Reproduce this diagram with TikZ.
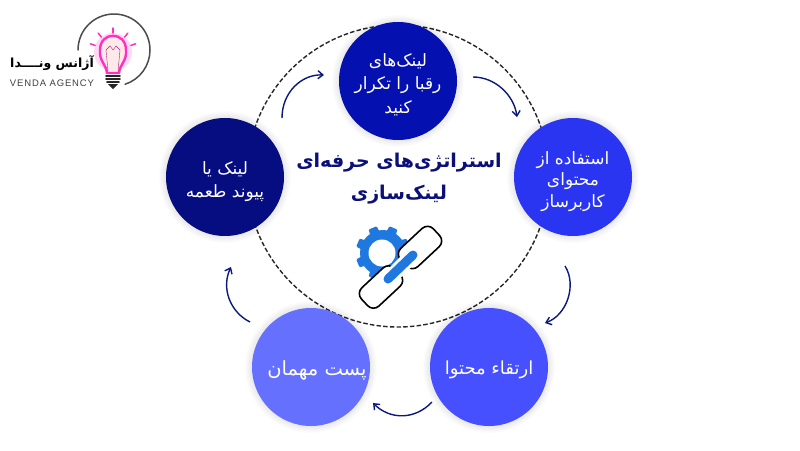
\documentclass[tikz,border=0pt]{standalone}
\usepackage{fontspec}
\setmainfont{Liberation Sans}
\newfontfamily\arabicfont[Script=Arabic]{DejaVu Sans}
\TeXXeTstate=1
\newcommand{\rl}[1]{\beginR #1\endR}
\newcommand{\dropa}{\rule{0pt}{20pt}}
\definecolor{ctop}{HTML}{0510B0}
\definecolor{cleft}{HTML}{060D80}
\definecolor{cright}{HTML}{2A35F2}
\definecolor{clr}{HTML}{4650FF}
\definecolor{cll}{HTML}{6670FF}
\definecolor{arrowc}{HTML}{0C1880}
\definecolor{titlec}{HTML}{0A1078}
\definecolor{gearc}{HTML}{1F78E0}
\definecolor{pinkc}{HTML}{FF2FC0}
\usetikzlibrary{arrows.meta,calc}
\tikzset{
  stagecircle/.style={circle,minimum size=118pt,inner sep=0pt,text=white,align=center,
    font=\arabicfont\fontsize{17}{23.5}\selectfont},
  flowarc/.style={draw=arrowc,line width=1.4pt,-{Straight Barb[length=5pt,width=8pt]}},
  ray/.style={draw=pinkc,line width=1.5pt,line cap=round},
  linkshape/.style={draw=black,fill=white,line width=1.6pt,rounded corners=8pt,
    minimum width=45pt,minimum height=25pt,inner sep=0pt,rotate=43}
}
\newcommand{\softshadow}[1]{%
  \foreach \r in {66,65,64,63,62,61,60}{\fill[black,opacity=0.012] #1 circle (\r pt);}}
\begin{document}
\begin{tikzpicture}[x=1pt,y=-1pt]
\useasboundingbox (0,0) rectangle (800,450);
\fill[white] (0,0) rectangle (800,450);
% dashed ring
\coordinate (ringc) at (398,176);
\draw[black!85,line width=1.4pt,dash pattern=on 4.5pt off 2.2pt] (ringc) circle (151pt);
% shadows
\softshadow{(398,81)}\softshadow{(573,177)}\softshadow{(489,367)}\softshadow{(311,367)}\softshadow{(225,177)}
% stages
\node[stagecircle,fill=ctop] (top) at (398,81) {\dropa\rl{لینک‌های}\\\rl{رقبا را تکرار}\\\rl{کنید}};
\node[stagecircle,fill=cright,font=\arabicfont\fontsize{17}{21.5}\selectfont] (right) at (573,177) {\rule{0pt}{22pt}\rl{استفاده از}\\\rl{محتوای}\\\rl{کاربرساز}};
\node[stagecircle,fill=clr,font=\arabicfont\fontsize{18}{24}\selectfont] (lowright) at (489,367) {\dropa\rl{ارتقاء محتوا}};
\node[stagecircle,fill=cll,font=\arabicfont\fontsize{19.5}{24}\selectfont] (lowleft) at (311,367) {\rule{0pt}{22pt}\hspace{12pt}\rl{پست مهمان}};
\node[stagecircle,fill=cleft] (left) at (225,177) {\rule{0pt}{22pt}\rl{لینک یا}\\\rl{پیوند طعمه}};
% title
\node[text=titlec,align=center,font=\arabicfont\bfseries\fontsize{19}{32}\selectfont] (title) at (399,179)
  {\rl{استراتژی‌های حرفه‌ای}\\\rl{لینک‌سازی}};
% arcs
\coordinate (a1s) at (282,118); \coordinate (a1e) at (324,75);
\coordinate (a2s) at (473,77);  \coordinate (a2e) at (517,117);
\coordinate (a3s) at (565,266); \coordinate (a3e) at (545,323);
\coordinate (a4s) at (432,402); \coordinate (a4e) at (373,403);
\coordinate (a5s) at (250,322); \coordinate (a5e) at (231,267);
\draw[flowarc] (a1s) .. controls (282,92) and (302,74) .. (a1e);
\draw[flowarc] (a2s) .. controls (495,77) and (514,95) .. (a2e);
\draw[flowarc] (a3s) .. controls (577,285) and (567,315) .. (a3e);
\draw[flowarc] (a4s) .. controls (415,420) and (390,420) .. (a4e);
\draw[flowarc] (a5s) .. controls (230,312) and (221,288) .. (a5e);
% gear
\coordinate (gear) at (383,253);
\fill[gearc] (gear) circle (23pt);
\foreach \a in {22.5,67.5,...,360}{
  \fill[gearc,rounded corners=1pt] ($(gear)+(\a-14:21)$) -- ($(gear)+(\a-9:27.5)$) -- ($(gear)+(\a+9:27.5)$) -- ($(gear)+(\a+14:21)$) -- cycle;
}
\fill[white] (382,253) circle (13.5pt);
% chain
\node[linkshape] (linka) at (420,247.5) {};
\node[linkshape] (linkb) at (381,287) {};
\draw[white,line width=15pt] (linkb.center) -- (linka.center);
\coordinate (bara) at (413,255); \coordinate (barb) at (388,279);
\draw[gearc,line width=9pt,line cap=round] (barb) -- (bara);
% logo
\coordinate (lc) at (113,52);
\draw[black!70,line width=1.5pt,line cap=round] (78,50) arc[start angle=180,end angle=-72,radius=36pt];
\foreach \a in {90,52,128,20,160}{
  \draw[ray] ($(lc)+(\a:-24)$) -- ($(lc)+(\a:-19)$);
}
\coordinate (bl) at (107,73); \coordinate (br) at (119,73);
\fill[pinkc,opacity=.18] (113,52) circle (19pt);
\filldraw[draw=pinkc,fill=pink!35,line width=2.4pt,line join=round]
  (bl) .. controls (106,64) and (99,61) .. (100,50)
  .. controls (100,31) and (126,31) .. (126,50)
  .. controls (127,61) and (120,64) .. (br) -- cycle;
\draw[pinkc!70!black,line width=.4pt] (108,71) -- (106,50) -- (110,46) -- (113,50) -- (116,46) -- (120,50) -- (118,71);
\foreach \yy/\w in {76/7,79/7,82/6}{
  \draw[black!85,line width=1.6pt,line cap=round] (113-\w,\yy) -- (113+\w,\yy);
}
\fill[black!85] (108,84) -- (118,84) -- (113,89) -- cycle;
\node[inner sep=0pt,font=\arabicfont\bfseries\fontsize{12.5}{14}\selectfont,text=black] (logofa) at (52,63) {\rl{آژانس ونــــدا}};
\node[inner sep=0pt,font=\fontsize{9.5}{12}\selectfont,text=black!75] (logoen) at (52,83) {\addfontfeature{LetterSpace=9}VENDA AGENCY};
\end{tikzpicture}
\end{document}
